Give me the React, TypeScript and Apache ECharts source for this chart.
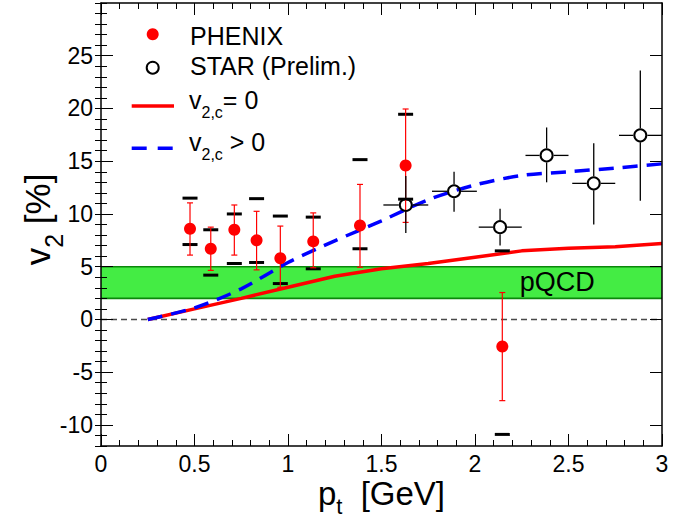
import React, { useEffect, useRef } from 'react';
import * as echarts from 'echarts';

// ---- data ----
const ptGrid = [0.25, 0.5, 0.75, 1.0, 1.25, 1.5, 1.75, 2.0, 2.25, 2.5, 2.75, 3.0];
const v2cZero = [0, 1.0, 2.0, 3.05, 4.1, 4.8, 5.3, 5.9, 6.5, 6.75, 6.9, 7.2];
const v2cPositive = [0, 1.1, 2.9, 5.4, 7.45, 9.35, 11.35, 12.75, 13.65, 14.0, 14.35, 14.75];

const phenixPt = [0.476, 0.587, 0.713, 0.832, 0.959, 1.135, 1.385, 1.629, 2.146];
const phenixV2 = [8.6, 6.7, 8.5, 7.5, 5.8, 7.4, 8.9, 14.6, -2.56];
const phenixStatLo = [6.1, 4.65, 6.1, 4.7, 3.05, 4.9, 4.95, 9.2, -7.7];
const phenixStatHi = [11.05, 8.75, 10.85, 10.25, 8.85, 10.1, 12.8, 19.95, 2.55];
const phenixSysLo = [7.1, 4.2, 5.3, 5.4, 3.4, 4.8, 6.7, 11.4, -10.9];
const phenixSysHi = [11.5, 8.5, 10.0, 11.45, 9.8, 9.7, 15.15, 19.45, 6.5];

const starPt = [1.63, 1.888, 2.134, 2.383, 2.635, 2.884];
const starV2 = [10.85, 12.15, 8.75, 15.55, 12.9, 17.45];
const starPtLo = [1.51, 1.77, 2.02, 2.27, 2.52, 2.77];
const starPtHi = [1.75, 2.01, 2.25, 2.5, 2.75, 3.0];
const starV2Lo = [8.2, 10.2, 7.0, 13.0, 9.0, 11.25];
const starV2Hi = [13.6, 14.0, 10.5, 18.2, 16.7, 23.6];

const pqcdLow = 2;
const pqcdHigh = 5;
const pqcdLabelAt = [2.44, 3.55];

const xMin = 0;
const xMax = 3;
const yMin = -12;
const yMax = 30;
const yMajorTicks = [-10, -5, 0, 5, 10, 15, 20, 25];

const FONT = '"Liberation Sans", Arial, Helvetica, sans-serif';

export default function App() {
  const ref = useRef<HTMLDivElement>(null);
  useEffect(() => {
    if (!ref.current) return;
    const chart = echarts.init(ref.current, undefined, { renderer: 'svg' });

    const tickStyle = { color: '#000', width: 1 };
    const frameLine = { show: true, onZero: false, lineStyle: { color: '#000', width: 1.5 } };

    const option: any = {
      animation: false,
      backgroundColor: '#fff',
      grid: {
        left: 101,
        top: 3,
        width: 561,
        height: 443,
        containLabel: false,
        outerBoundsMode: 'none',
      },
      xAxis: [
        {
          type: 'value',
          min: xMin,
          max: xMax,
          interval: 0.5,
          position: 'bottom',
          z: 10,
          axisLine: frameLine,
          axisTick: { show: true, inside: true, length: 12, lineStyle: tickStyle },
          minorTick: { show: true, splitNumber: 5, length: 6, lineStyle: tickStyle },
          splitLine: { show: false },
          minorSplitLine: { show: false },
          axisLabel: {
            show: true,
            fontSize: 23,
            color: '#000',
            fontFamily: FONT,
            margin: 6,
            formatter: (v: number) => String(v),
          },
          name: '{m|p}{s|t}{g| [GeV]}',
          nameLocation: 'middle',
          nameGap: 31,
          nameMoveOverlap: false,
          nameTextStyle: {
            color: '#000',
            fontFamily: FONT,
            fontSize: 33,
            rich: {
              m: { fontSize: 33, lineHeight: 33, verticalAlign: 'top', fontFamily: FONT, color: '#000' },
              g: { fontSize: 33, lineHeight: 33, verticalAlign: 'top', fontFamily: FONT, color: '#000', padding: [0, 0, 0, 9] },
              s: { fontSize: 22, lineHeight: 18, verticalAlign: 'top', fontFamily: FONT, color: '#000', padding: [18, 0, 0, 0] },
            },
          },
        },
        {
          type: 'value',
          min: xMin,
          max: xMax,
          interval: 0.5,
          position: 'top',
          z: 10,
          axisLine: frameLine,
          axisTick: { show: true, inside: true, length: 12, lineStyle: tickStyle },
          minorTick: { show: true, splitNumber: 5, length: 6, lineStyle: tickStyle },
          splitLine: { show: false },
          axisLabel: { show: false },
        },
      ],
      yAxis: [
        {
          type: 'value',
          min: yMin,
          max: yMax,
          position: 'left',
          z: 10,
          axisLine: frameLine,
          axisTick: { show: true, inside: true, length: 12, lineStyle: tickStyle, customValues: yMajorTicks },
          splitLine: { show: false },
          axisLabel: {
            show: true,
            customValues: yMajorTicks,
            fontSize: 23,
            color: '#000',
            fontFamily: FONT,
            margin: 8,
          },
          name: '{f|v}{s|2}{m| [%]}',
          nameLocation: 'middle',
          nameRotate: 90,
          nameGap: 44,
          nameMoveOverlap: false,
          nameTextStyle: {
            color: '#000',
            fontFamily: FONT,
            fontSize: 35,
            rich: {
              f: { fontSize: 35, lineHeight: 37, verticalAlign: 'top', fontFamily: FONT, color: '#000', padding: [0, 0, 0, 10] },
              m: { fontSize: 35, lineHeight: 37, verticalAlign: 'top', fontFamily: FONT, color: '#000' },
              s: { fontSize: 25, lineHeight: 25, verticalAlign: 'top', fontFamily: FONT, color: '#000', padding: [21.5, 0, 0, 0] },
            },
          },
        },
        {
          type: 'value',
          min: yMin,
          max: yMax,
          interval: 1,
          position: 'left',
          z: 10,
          axisLine: { show: false },
          axisTick: { show: true, inside: true, length: 6, lineStyle: tickStyle },
          splitLine: { show: false },
          axisLabel: { show: false },
        },
        {
          type: 'value',
          min: yMin,
          max: yMax,
          position: 'right',
          z: 10,
          axisLine: frameLine,
          axisTick: { show: true, inside: true, length: 12, lineStyle: tickStyle, customValues: yMajorTicks },
          splitLine: { show: false },
          axisLabel: { show: false },
        },
        {
          type: 'value',
          min: yMin,
          max: yMax,
          interval: 1,
          position: 'right',
          z: 10,
          axisLine: { show: false },
          axisTick: { show: true, inside: true, length: 6, lineStyle: tickStyle },
          splitLine: { show: false },
          axisLabel: { show: false },
        },
      ],
      series: [
        {
          name: 'pQCD',
          type: 'custom',
          z: 1,
          xAxisIndex: 0,
          yAxisIndex: 0,
          data: [[xMin, xMax, pqcdLow, pqcdHigh]],
          renderItem: (params: any, api: any) => {
            const tl = api.coord([api.value(0), api.value(3)]);
            const br = api.coord([api.value(1), api.value(2)]);
            const z0a = api.coord([api.value(0), 0]);
            const z0b = api.coord([api.value(1), 0]);
            const lab = api.coord(pqcdLabelAt);
            return {
              type: 'group',
              children: [
                {
                  type: 'rect',
                  shape: { x: tl[0], y: tl[1], width: br[0] - tl[0], height: br[1] - tl[1] },
                  style: { fill: '#44ec44' },
                },
                {
                  type: 'line',
                  shape: { x1: tl[0], y1: tl[1], x2: br[0], y2: tl[1] },
                  style: { stroke: '#0b870b', lineWidth: 1.6 },
                },
                {
                  type: 'line',
                  shape: { x1: tl[0], y1: br[1], x2: br[0], y2: br[1] },
                  style: { stroke: '#0b870b', lineWidth: 1.6 },
                },
                {
                  type: 'line',
                  shape: { x1: z0a[0], y1: z0a[1], x2: z0b[0], y2: z0b[1] },
                  style: { stroke: '#4a4a4a', lineWidth: 1.5, lineDash: [6, 4] },
                },
                {
                  type: 'text',
                  x: lab[0],
                  y: lab[1],
                  style: {
                    text: 'pQCD',
                    fill: '#000',
                    fontSize: 27,
                    fontFamily: FONT,
                    align: 'center',
                    verticalAlign: 'middle',
                  },
                },
              ],
            };
          },
        },
        {
          name: 'v2c=0',
          type: 'line',
          z: 3,
          data: ptGrid.map((x, i) => [x, v2cZero[i]]),
          symbol: 'none',
          lineStyle: { color: '#ff0000', width: 3.5 },
        },
        {
          name: 'v2c>0',
          type: 'line',
          z: 3,
          data: ptGrid.map((x, i) => [x, v2cPositive[i]]),
          symbol: 'none',
          smooth: 0.3,
          lineStyle: { color: '#0000ff', width: 3.5, type: [15, 9] },
        },
        {
          name: 'PHENIX sys',
          type: 'custom',
          z: 4,
          data: phenixPt.map((x, i) => [x, phenixSysLo[i], phenixSysHi[i]]),
          renderItem: (params: any, api: any) => {
            const lo = api.coord([api.value(0), api.value(1)]);
            const hi = api.coord([api.value(0), api.value(2)]);
            const hw = 7.5;
            return {
              type: 'group',
              children: [
                { type: 'line', shape: { x1: lo[0] - hw, y1: lo[1], x2: lo[0] + hw, y2: lo[1] }, style: { stroke: '#000', lineWidth: 3 } },
                { type: 'line', shape: { x1: hi[0] - hw, y1: hi[1], x2: hi[0] + hw, y2: hi[1] }, style: { stroke: '#000', lineWidth: 3 } },
              ],
            };
          },
        },
        {
          name: 'PHENIX stat',
          type: 'custom',
          z: 5,
          data: phenixPt.map((x, i) => [x, phenixStatLo[i], phenixStatHi[i]]),
          renderItem: (params: any, api: any) => {
            const lo = api.coord([api.value(0), api.value(1)]);
            const hi = api.coord([api.value(0), api.value(2)]);
            const cw = 3;
            const st = { stroke: '#ff0000', lineWidth: 1.2 };
            return {
              type: 'group',
              children: [
                { type: 'line', shape: { x1: lo[0], y1: lo[1], x2: hi[0], y2: hi[1] }, style: st },
                { type: 'line', shape: { x1: lo[0] - cw, y1: lo[1], x2: lo[0] + cw, y2: lo[1] }, style: st },
                { type: 'line', shape: { x1: hi[0] - cw, y1: hi[1], x2: hi[0] + cw, y2: hi[1] }, style: st },
              ],
            };
          },
        },
        {
          name: 'PHENIX',
          type: 'scatter',
          z: 6,
          data: phenixPt.map((x, i) => [x, phenixV2[i]]),
          symbol: 'circle',
          symbolSize: 12,
          itemStyle: { color: '#ff0000', opacity: 1 },
        },
        {
          name: 'STAR err',
          type: 'custom',
          z: 5,
          data: starPt.map((x, i) => [x, starV2[i], starPtLo[i], starPtHi[i], starV2Lo[i], starV2Hi[i]]),
          renderItem: (params: any, api: any) => {
            const x = api.value(0);
            const y = api.value(1);
            const c = api.coord([x, y]);
            const l = api.coord([api.value(2), y]);
            const r = api.coord([api.value(3), y]);
            const b = api.coord([x, api.value(4)]);
            const t = api.coord([x, api.value(5)]);
            const g = 7;
            const st = { stroke: '#000', lineWidth: 1.3 };
            return {
              type: 'group',
              children: [
                { type: 'line', shape: { x1: l[0], y1: c[1], x2: c[0] - g, y2: c[1] }, style: st },
                { type: 'line', shape: { x1: c[0] + g, y1: c[1], x2: r[0], y2: c[1] }, style: st },
                { type: 'line', shape: { x1: c[0], y1: t[1], x2: c[0], y2: c[1] - g }, style: st },
                { type: 'line', shape: { x1: c[0], y1: c[1] + g, x2: c[0], y2: b[1] }, style: st },
              ],
            };
          },
        },
        {
          name: 'STAR (Prelim.)',
          type: 'scatter',
          z: 6,
          data: starPt.map((x, i) => [x, starV2[i]]),
          symbol: 'circle',
          symbolSize: 12,
          itemStyle: { color: 'rgba(0,0,0,0)', borderColor: '#000', borderWidth: 2, opacity: 1 },
        },
      ],
      graphic: [
        { type: 'circle', shape: { cx: 152.7, cy: 34.3, r: 6 }, style: { fill: '#ff0000' }, z: 20 },
        {
          type: 'text', x: 190, y: 35.6, z: 20,
          style: { text: 'PHENIX', fill: '#000', fontSize: 25, fontFamily: FONT, verticalAlign: 'middle' },
        },
        { type: 'circle', shape: { cx: 152.7, cy: 67.7, r: 6 }, style: { fill: 'none', stroke: '#000', lineWidth: 2 }, z: 20 },
        {
          type: 'text', x: 190, y: 66, z: 20,
          style: { text: 'STAR (Prelim.)', fill: '#000', fontSize: 25, fontFamily: FONT, verticalAlign: 'middle' },
        },
        { type: 'line', shape: { x1: 131.7, y1: 106, x2: 174, y2: 106 }, style: { stroke: '#ff0000', lineWidth: 3.5 }, z: 20 },
        {
          type: 'text', x: 189, y: 87.5, z: 20,
          style: {
            text: '{m|v}{s|2,c}{m|= 0}',
            fill: '#000',
            fontFamily: FONT,
            fontSize: 25,
            verticalAlign: 'top',
            rich: {
              m: { fontSize: 25, lineHeight: 28, verticalAlign: 'top', fontFamily: FONT, fill: '#000' },
              s: { fontSize: 16, lineHeight: 16, verticalAlign: 'top', fontFamily: FONT, fill: '#000', padding: [17, 0, 0, 0] },
            },
          },
        },
        {
          type: 'line', shape: { x1: 131.7, y1: 148.3, x2: 174, y2: 148.3 },
          style: { stroke: '#0000ff', lineWidth: 3.5, lineDash: [15, 11] }, z: 20,
        },
        {
          type: 'text', x: 189, y: 129, z: 20,
          style: {
            text: '{m|v}{s|2,c}{m| > 0}',
            fill: '#000',
            fontFamily: FONT,
            fontSize: 25,
            verticalAlign: 'top',
            rich: {
              m: { fontSize: 25, lineHeight: 28, verticalAlign: 'top', fontFamily: FONT, fill: '#000' },
              s: { fontSize: 16, lineHeight: 16, verticalAlign: 'top', fontFamily: FONT, fill: '#000', padding: [17, 0, 0, 0] },
            },
          },
        },
      ],
    };

    chart.setOption(option);
    return () => {
      chart.dispose();
    };
  }, []);

  return (
    <div
      ref={ref}
      style={{ position: 'fixed', left: 0, top: 0, width: 691, height: 517, background: '#fff' }}
    />
  );
}
